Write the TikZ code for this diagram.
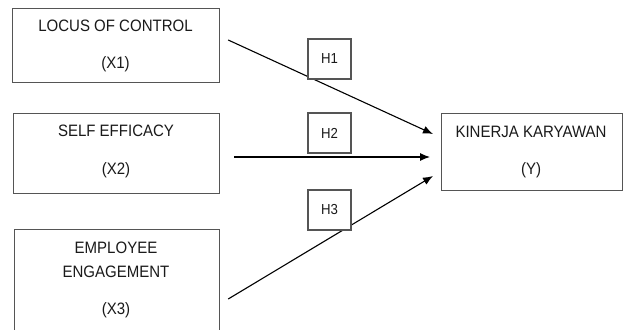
\documentclass[tikz,border=0pt]{standalone}
\usepackage{fontspec}
\setmainfont{Liberation Sans}
\newfontfamily\narrowfont[FakeStretch=0.91]{Liberation Sans}
\usetikzlibrary{arrows.meta,calc}
\definecolor{boxline}{HTML}{555555}
\definecolor{txt}{HTML}{1A1A1A}
\tikzset{
  varbox/.style={draw=boxline, line width=1.2pt, fill=white, inner sep=0pt},
  hbox/.style={draw=boxline, line width=1.2pt, fill=white, inner sep=0pt,
    minimum width=43pt, minimum height=40pt, font=\narrowfont\fontsize{14.5}{16}\selectfont, text=txt},
  vtext/.style={font=\narrowfont\fontsize{16.5}{18}\selectfont, text=txt, inner sep=0pt},
  path/.style={line width=1.1pt, draw=black, -{Latex[length=10pt,width=8pt]}}
}
\begin{document}
\begin{tikzpicture}[x=1pt,y=-1pt]
\useasboundingbox (0,0) rectangle (623,329);
\clip (0,0) rectangle (623,329);
% variable boxes
\node[varbox, minimum width=207pt, minimum height=74pt, anchor=north west] (x1) at (12,8) {};
\node[varbox, minimum width=206pt, minimum height=80pt, anchor=north west] (x2) at (13,113) {};
\node[varbox, minimum width=205pt, minimum height=120pt, anchor=north west] (x3) at (14,229) {};
\node[varbox, minimum width=181pt, minimum height=77pt, anchor=north west] (y) at (441,113) {};
% texts
\node[vtext] (t1a) at (115.5,26) {LOCUS OF CONTROL};
\node[vtext] (t1b) at (115.5,64) {(X1)};
\node[vtext] (t2a) at (116,131) {SELF EFFICACY};
\node[vtext] (t2b) at (116,170) {(X2)};
\node[vtext] (t3a) at (116,248) {EMPLOYEE};
\node[vtext] (t3b) at (116,272) {ENGAGEMENT};
\node[vtext] (t3c) at (116,310) {(X3)};
\node[vtext] (tya) at (531,132) {KINERJA KARYAWAN};
\node[vtext] (tyb) at (531,170) {(Y)};
% connector end points
\coordinate (s1) at ($(x1.north east)+(8,32)$);
\coordinate (s2) at ($(x2.north east)+(14,44)$);
\coordinate (s3) at ($(x3.north east)+(8,70)$);
\coordinate (e1) at ($(y.north west)+(-8,21)$);
\coordinate (e2) at ($(y.north west)+(-11,44)$);
\coordinate (e3) at ($(y.north west)+(-8,63)$);
\draw[path] (s1) -- (e1);
\draw[path] (s2) -- (e2);
\draw[path] (s3) -- (e3);
% hypothesis boxes
\node[hbox] (h1) at (329.5,59) {H1};
\node[hbox] (h2) at (329.5,133) {H2};
\node[hbox] (h3) at (329.5,210) {H3};
\end{tikzpicture}
\end{document}
